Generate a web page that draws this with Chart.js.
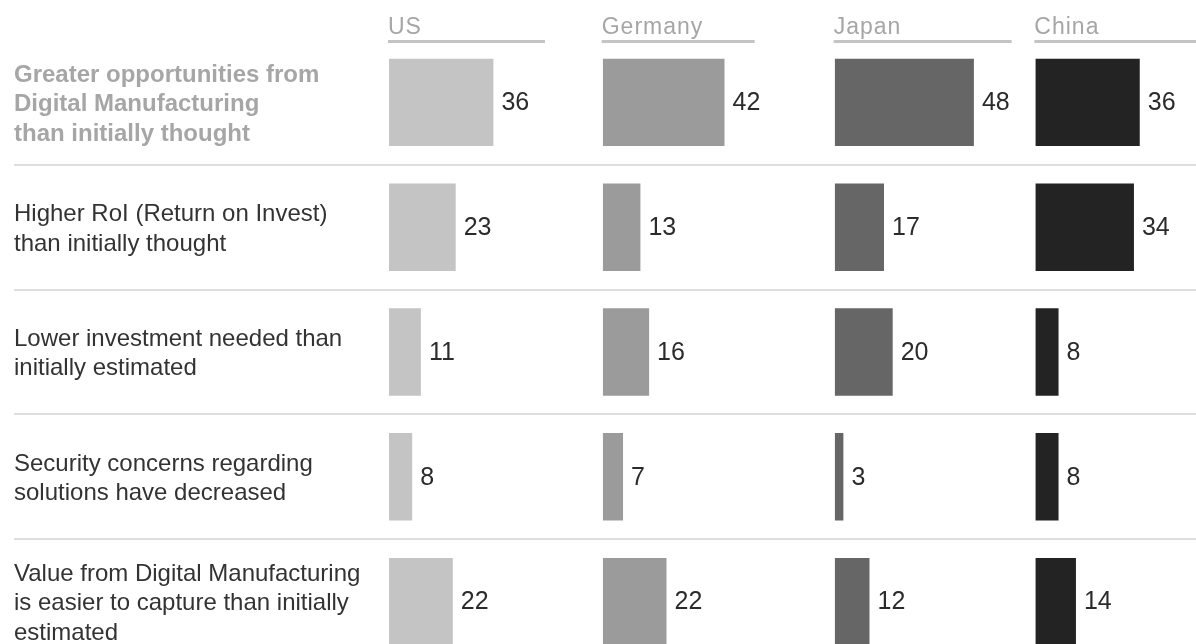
<!DOCTYPE html>
<html>
<head>
<meta charset="utf-8">
<script src="https://cdn.jsdelivr.net/npm/chart.js@4/dist/chart.umd.min.js"></script>
<style>
  html, body { margin: 0; padding: 0; background: #fff; overflow: hidden; }
  #wrap { position: relative; width: 1196px; height: 664px; }
</style>
</head>
<body>
<div id="wrap"><canvas id="surveyChart"></canvas></div>
<script>
const rowLabels = [
  ['Greater opportunities from', 'Digital Manufacturing', 'than initially thought'],
  ['Higher RoI (Return on Invest)', 'than initially thought'],
  ['Lower investment needed than', 'initially estimated'],
  ['Security concerns regarding', 'solutions have decreased'],
  ['Value from Digital Manufacturing', 'is easier to capture than initially', 'estimated']
];
const countries = ['US', 'Germany', 'Japan', 'China'];
const usValues = [36, 23, 11, 8, 22];
const germanyValues = [42, 13, 16, 7, 22];
const japanValues = [48, 17, 20, 3, 12];
const chinaValues = [36, 34, 8, 8, 14];
const countryColors = ['#c4c4c4', '#9b9b9b', '#666666', '#232323'];

// column widths in value units (same px per unit everywhere) and header rule lengths
const columnSpans = [73.7, 80, 69.2, 55.4];
const headerRuleLengths = [157, 153, 178, 170];

const FONT = "'Liberation Sans', Arial, Helvetica, sans-serif";
const seriesValues = [usValues, germanyValues, japanValues, chinaValues];

// top boxes are laid out in reverse order, so register the last column first
const xScales = {};
for (let i = countries.length - 1; i >= 0; i--) {
  xScales['x' + i] = {
    type: 'linear',
    position: 'top',
    stack: 'columns',
    stackWeight: columnSpans[i],
    min: 0,
    max: columnSpans[i],
    grid: { display: false },
    border: { display: false },
    ticks: { display: false },
    afterFit: s => { s.height = 0; }
  };
}

// country name with a short rule under it, above each column
const headerPlugin = {
  id: 'columnHeaders',
  afterDraw(chart) {
    const ctx = chart.ctx;
    ctx.save();
    countries.forEach((name, i) => {
      const sc = chart.scales['x' + i];
      const x0 = sc.left - 1;
      ctx.fillStyle = '#a6a6a6';
      ctx.font = '23px ' + FONT;
      ctx.letterSpacing = '1px';
      ctx.textAlign = 'left';
      ctx.textBaseline = 'alphabetic';
      ctx.fillText(name, x0, 34);
      ctx.fillStyle = '#c4c4c4';
      ctx.fillRect(x0, 40, headerRuleLengths[i], 3);
    });
    ctx.restore();
  }
};

// value printed just right of each bar
const valueLabels = {
  id: 'valueLabels',
  afterDatasetsDraw(chart) {
    const ctx = chart.ctx;
    ctx.save();
    ctx.font = '25px ' + FONT;
    ctx.fillStyle = '#2b2b2b';
    ctx.textAlign = 'left';
    ctx.textBaseline = 'middle';
    chart.data.datasets.forEach((ds, di) => {
      chart.getDatasetMeta(di).data.forEach((bar, i) => {
        ctx.fillText(String(ds.data[i]), bar.x + 8, bar.y + 1);
      });
    });
    ctx.restore();
  }
};

new Chart(document.getElementById('surveyChart'), {
  type: 'bar',
  data: {
    labels: rowLabels,
    datasets: countries.map((name, i) => ({
      label: name,
      data: seriesValues[i],
      xAxisID: 'x' + i,
      backgroundColor: countryColors[i],
      borderWidth: 0,
      grouped: false,
      barPercentage: 0.7,
      categoryPercentage: 1
    }))
  },
  options: {
    indexAxis: 'y',
    responsive: true,
    maintainAspectRatio: false,
    animation: false,
    layout: { padding: { left: 14, top: 40, right: 0, bottom: 0 } },
    plugins: {
      legend: { display: false },
      tooltip: { enabled: false }
    },
    scales: Object.assign({
      y: {
        type: 'category',
        position: 'left',
        offset: true,
        border: { display: false },
        grid: {
          offset: true,
          drawTicks: true,
          tickLength: 375,
          lineWidth: 2,
          color: c => (c.index === 0 ? 'rgba(0,0,0,0)' : '#dedede')
        },
        ticks: {
          crossAlign: 'far',
          autoSkip: false,
          labelOffset: 2,
          color: c => (c.index === 0 ? '#a6a6a6' : '#333333'),
          font: c => ({
            family: FONT,
            size: 24,
            weight: c.index === 0 ? 'bold' : 'normal',
            lineHeight: 1.23
          })
        },
        afterFit: s => {
          s.width = 375;
          // labels stay inside their bands, no extra room needed above/below
          s.paddingTop = 0;
          s.paddingBottom = 0;
        }
      }
    }, xScales)
  },
  plugins: [headerPlugin, valueLabels]
});
</script>
</body>
</html>
